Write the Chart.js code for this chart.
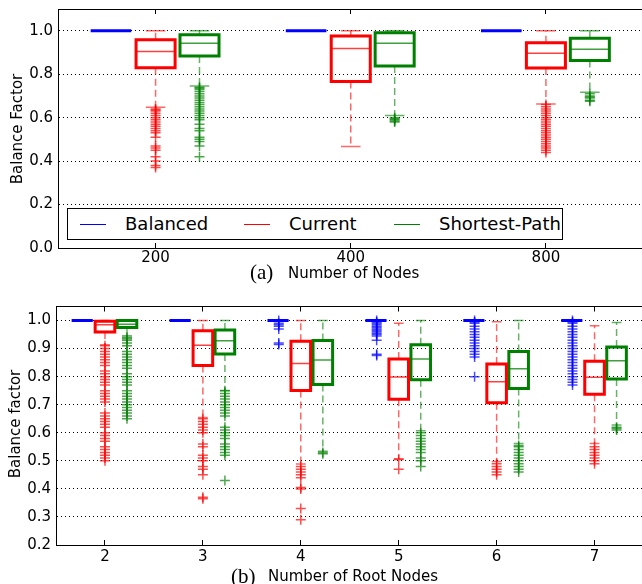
<!DOCTYPE html>
<html>
<head>
<meta charset="utf-8">
<script src="https://cdn.jsdelivr.net/npm/chart.js@4.4.0/dist/chart.umd.min.js"></script>
<style>
  html, body { margin: 0; padding: 0; background: #fff; overflow: hidden; }
  #wrap { position: relative; width: 642px; height: 584px; overflow: hidden; }
  canvas { position: absolute; left: 0; }
  .lbl { position: absolute; font-family: 'DejaVu Sans'; font-size: 15px; color: #000; white-space: nowrap; line-height: 1; }
  .serif { font-family: 'Liberation Serif'; font-size: 21px; }
  .ytitle { transform: translate(-50%, -50%) rotate(-90deg); }
  #legend { position: absolute; left: 67px; top: 208px; width: 496px; height: 32px; box-sizing: border-box;
            border: 1px solid #000; background: #fff; }
  #legend .swatch { position: absolute; top: 15px; width: 26px; height: 0; border-top: 1.5px solid; }
  #legend .txt { position: absolute; top: 6px; font-family: 'DejaVu Sans'; font-size: 18px; line-height: 1; }
</style>
</head>
<body>
<div id="wrap">
  <canvas id="chartA" width="650" height="300" style="top:0"></canvas>
  <canvas id="chartB" width="650" height="284" style="top:300px"></canvas>

  <div class="lbl ytitle" style="left:17px; top:129px">Balance Factor</div>
  <div class="lbl serif" style="left:250px; top:262px">(a)</div>
  <div class="lbl" style="left:288px; top:266px">Number of Nodes</div>

  <div class="lbl ytitle" style="left:15px; top:424px">Balance factor</div>
  <div class="lbl serif" style="left:231px; top:566px">(b)</div>
  <div class="lbl" style="left:268px; top:569px">Number of Root Nodes</div>

  <div id="legend">
    <span class="swatch" style="left:12px; border-color:#0000ff"></span><span class="txt" style="left:57px">Balanced</span>
    <span class="swatch" style="left:176px; border-color:#ff0000"></span><span class="txt" style="left:221px">Current</span>
    <span class="swatch" style="left:326px; border-color:#008000"></span><span class="txt" style="left:371px">Shortest-Path</span>
  </div>
</div>

<script>
// categories
const nodeCounts = ['200', '400', '800'];
const rootCounts = ['2', '3', '4', '5', '6', '7'];

// tick labels
const yTicksA = [0, 0.2, 0.4, 0.6, 0.8, 1.0];
const yTicksB = [0.2, 0.3, 0.4, 0.5, 0.6, 0.7, 0.8, 0.9, 1.0];

// box summaries: [lower whisker, q1, median, q3, upper whisker]
const balancedA = [[1, 1, 1, 1, 1], [1, 1, 1, 1, 1], [1, 1, 1, 1, 1]];
const currentA = [[0.648, 0.830, 0.904, 0.958, 1.0], [0.467, 0.766, 0.918, 0.976, 1.0], [0.663, 0.828, 0.896, 0.945, 1.0]];
const shortestA = [[0.746, 0.884, 0.942, 0.981, 1.0], [0.610, 0.838, 0.942, 0.991, 1.0], [0.717, 0.863, 0.915, 0.965, 1.0]];

const balancedOutA = [[], [], []];
const currentOutA = [
  [0.64, 0.635, 0.63, 0.62, 0.61, 0.60, 0.59, 0.58, 0.57, 0.56, 0.55, 0.54, 0.53, 0.51, 0.47, 0.46, 0.45, 0.42, 0.40, 0.38, 0.37],
  [],
  [0.66, 0.65, 0.64, 0.63, 0.62, 0.61, 0.60, 0.59, 0.58, 0.57, 0.56, 0.55, 0.54, 0.53, 0.52, 0.51, 0.50, 0.49, 0.48, 0.47, 0.46, 0.45, 0.44]
];
const shortestOutA = [
  [0.74, 0.735, 0.73, 0.72, 0.71, 0.70, 0.69, 0.68, 0.67, 0.66, 0.65, 0.64, 0.63, 0.62, 0.61, 0.60, 0.59, 0.57, 0.55, 0.54, 0.51, 0.50, 0.49, 0.47, 0.42],
  [0.60, 0.595, 0.59, 0.585, 0.58],
  [0.71, 0.70, 0.695, 0.69, 0.68, 0.675]
];

const balancedB = [[1, 1, 1, 1, 1], [1, 1, 1, 1, 1], [1, 1, 1, 1, 1], [1, 1, 1, 1, 1], [1, 1, 1, 1, 1], [1, 1, 1, 1, 1]];
const currentB = [
  [0.914, 0.959, 0.985, 0.997, 1.0],
  [0.654, 0.840, 0.912, 0.964, 1.0],
  [0.489, 0.751, 0.847, 0.926, 1.0],
  [0.507, 0.719, 0.799, 0.863, 0.990],
  [0.498, 0.707, 0.782, 0.845, 0.996],
  [0.562, 0.737, 0.798, 0.855, 0.981]
];
const shortestB = [
  [0.946, 0.975, 0.987, 1.0, 1.0],
  [0.751, 0.881, 0.928, 0.966, 1.0],
  [0.534, 0.772, 0.859, 0.929, 1.0],
  [0.607, 0.789, 0.863, 0.914, 1.0],
  [0.562, 0.758, 0.828, 0.890, 1.0],
  [0.628, 0.792, 0.857, 0.906, 0.993]
];

const balancedOutB = [
  [], [],
  [1.0, 0.99, 0.985, 0.98, 0.97, 0.92, 0.915],
  [1.0, 0.995, 0.99, 0.985, 0.98, 0.975, 0.97, 0.965, 0.96, 0.955, 0.95, 0.945, 0.93, 0.88, 0.875],
  [1.0, 0.995, 0.99, 0.98, 0.97, 0.96, 0.95, 0.94, 0.93, 0.92, 0.91, 0.90, 0.89, 0.88, 0.87, 0.80],
  [1.0, 0.995, 0.99, 0.98, 0.97, 0.96, 0.95, 0.94, 0.93, 0.92, 0.91, 0.90, 0.89, 0.88, 0.87, 0.86, 0.85, 0.84, 0.83, 0.82, 0.81, 0.80, 0.79, 0.78, 0.77]
];
const currentOutB = [
  [0.91, 0.90, 0.89, 0.88, 0.87, 0.86, 0.85, 0.84, 0.82, 0.81, 0.80, 0.79, 0.78, 0.77, 0.75, 0.74, 0.73, 0.72, 0.71, 0.67, 0.66, 0.65, 0.64, 0.63, 0.62, 0.60, 0.59, 0.58, 0.57, 0.55, 0.54, 0.53, 0.52, 0.51, 0.50],
  [0.65, 0.64, 0.63, 0.62, 0.61, 0.60, 0.56, 0.55, 0.52, 0.51, 0.50, 0.48, 0.47, 0.45, 0.37, 0.365],
  [0.48, 0.47, 0.46, 0.45, 0.44, 0.405, 0.40, 0.33, 0.29],
  [0.505, 0.47],
  [0.49, 0.48, 0.47, 0.46, 0.45],
  [0.55, 0.54, 0.53, 0.52, 0.51, 0.50, 0.49]
];
const shortestOutB = [
  [0.94, 0.935, 0.93, 0.92, 0.91, 0.89, 0.88, 0.87, 0.86, 0.85, 0.84, 0.83, 0.81, 0.80, 0.79, 0.78, 0.77, 0.75, 0.74, 0.73, 0.72, 0.71, 0.70, 0.69, 0.68, 0.67, 0.66, 0.65],
  [0.75, 0.74, 0.73, 0.72, 0.71, 0.70, 0.69, 0.68, 0.67, 0.66, 0.62, 0.61, 0.60, 0.59, 0.58, 0.56, 0.55, 0.54, 0.53, 0.52, 0.43],
  [0.53, 0.525],
  [0.60, 0.59, 0.58, 0.57, 0.56, 0.55, 0.54, 0.53, 0.51, 0.50, 0.48],
  [0.555, 0.55, 0.54, 0.53, 0.52, 0.51, 0.50, 0.49, 0.48, 0.47, 0.46],
  [0.62, 0.615, 0.61]
];

Chart.defaults.font.family = 'DejaVu Sans';
Chart.defaults.color = '#000';

function rgba(hex, a) {
  const n = parseInt(hex.slice(1), 16);
  return 'rgba(' + (n >> 16) + ',' + ((n >> 8) & 255) + ',' + (n & 255) + ',' + a + ')';
}

// one series of boxes -> line datasets (box, median, whiskers, caps) + scatter outliers
function boxSets(stats, outs, slot, color) {
  const off = slot * 0.225, w = 0.1;
  const box = [], med = [], whisk = [], caps = [], fliers = [];
  stats.forEach((s, i) => {
    const p = i + 1 + off;
    const [lo, q1, m, q3, hi] = s;
    box.push({x: p - w, y: q1}, {x: p + w, y: q1}, {x: p + w, y: q3}, {x: p - w, y: q3}, {x: p - w, y: q1}, {x: p, y: null});
    med.push({x: p - w, y: m}, {x: p + w, y: m}, {x: p, y: null});
    whisk.push({x: p, y: q1}, {x: p, y: lo}, {x: p, y: null}, {x: p, y: q3}, {x: p, y: hi}, {x: p, y: null});
    caps.push({x: p - w / 2, y: lo}, {x: p + w / 2, y: lo}, {x: p, y: null}, {x: p - w / 2, y: hi}, {x: p + w / 2, y: hi}, {x: p, y: null});
    outs[i].forEach(v => fliers.push({x: p, y: v}));
  });
  const faded = rgba(color, 0.6);
  const line = {type: 'line', pointRadius: 0, fill: false, tension: 0, spanGaps: false};
  return [
    Object.assign({}, line, {data: box, borderColor: color, borderWidth: 3, borderJoinStyle: 'miter', borderCapStyle: 'square'}),
    Object.assign({}, line, {data: med, borderColor: rgba(color, 0.75), borderWidth: 1.5}),
    Object.assign({}, line, {data: whisk, borderColor: faded, borderWidth: 1.5, borderDash: [7, 4]}),
    Object.assign({}, line, {data: caps, borderColor: faded, borderWidth: 1.5}),
    {type: 'scatter', data: fliers, pointStyle: 'cross', pointRadius: 5, pointBorderWidth: 1.5,
     pointBorderColor: rgba(color, 0.7), pointBackgroundColor: 'transparent'}
  ];
}

function panel(canvasId, labels, yTicks, yMin, yMax, series, leftW, bottomH, padTop, tickPad) {
  const xMax = labels.length + 0.5;
  const noPad = s => { s.paddingTop = 0; s.paddingBottom = 0; s.paddingLeft = 0; s.paddingRight = 0; };
  const catTicks = s => { s.ticks = labels.map((_, i) => ({value: i + 1})); };
  // negative tick length puts the tick marks inside the plot, as in the original
  const inwardTicks = {display: true, drawOnChartArea: false, drawTicks: true, tickLength: -5, color: '#000', lineWidth: 1};
  return new Chart(document.getElementById(canvasId), {
    data: {datasets: [].concat(...series)},
    options: {
      responsive: false,
      animation: false,
      events: [],
      layout: {padding: {top: padTop, right: 4, left: 0, bottom: 0}},
      plugins: {legend: {display: false}, tooltip: {enabled: false}},
      scales: {
        x: {
          type: 'linear', position: 'bottom', min: 0.5, max: xMax,
          afterBuildTicks: catTicks,
          afterFit: s => { s.height = bottomH; noPad(s); },
          ticks: {callback: v => labels[v - 1], font: {size: 15}, padding: tickPad + 5, maxRotation: 0, autoSkip: false},
          grid: inwardTicks,
          border: {display: true, color: '#000', width: 1}
        },
        xTop: {
          type: 'linear', position: 'top', min: 0.5, max: xMax,
          afterBuildTicks: catTicks,
          afterFit: s => { s.height = 0; noPad(s); },
          ticks: {display: false},
          grid: inwardTicks,
          border: {display: true, color: '#000', width: 1}
        },
        y: {
          type: 'linear', min: yMin, max: yMax,
          afterBuildTicks: s => { s.ticks = yTicks.map(v => ({value: v})); },
          afterFit: s => { s.width = leftW; noPad(s); },
          ticks: {callback: v => v.toFixed(1), font: {size: 15}, padding: 5},
          grid: {color: '#000', lineWidth: 1, drawTicks: false},
          border: {display: true, color: '#000', width: 1, dash: [1, 3]}
        }
      }
    }
  });
}

panel('chartA', nodeCounts, yTicksA, 0, 1.1, [
  boxSets(balancedA, balancedOutA, -1, '#0000ff'),
  boxSets(currentA, currentOutA, 0, '#ff0000'),
  boxSets(shortestA, shortestOutA, 1, '#008000')
], 58, 52, 9, 1);

panel('chartB', rootCounts, yTicksB, 0.2, 1.05, [
  boxSets(balancedB, balancedOutB, -1, '#0000ff'),
  boxSets(currentB, currentOutB, 0, '#ff0000'),
  boxSets(shortestB, shortestOutB, 1, '#008000')
], 56, 39, 5, 3);
</script>
</body>
</html>
